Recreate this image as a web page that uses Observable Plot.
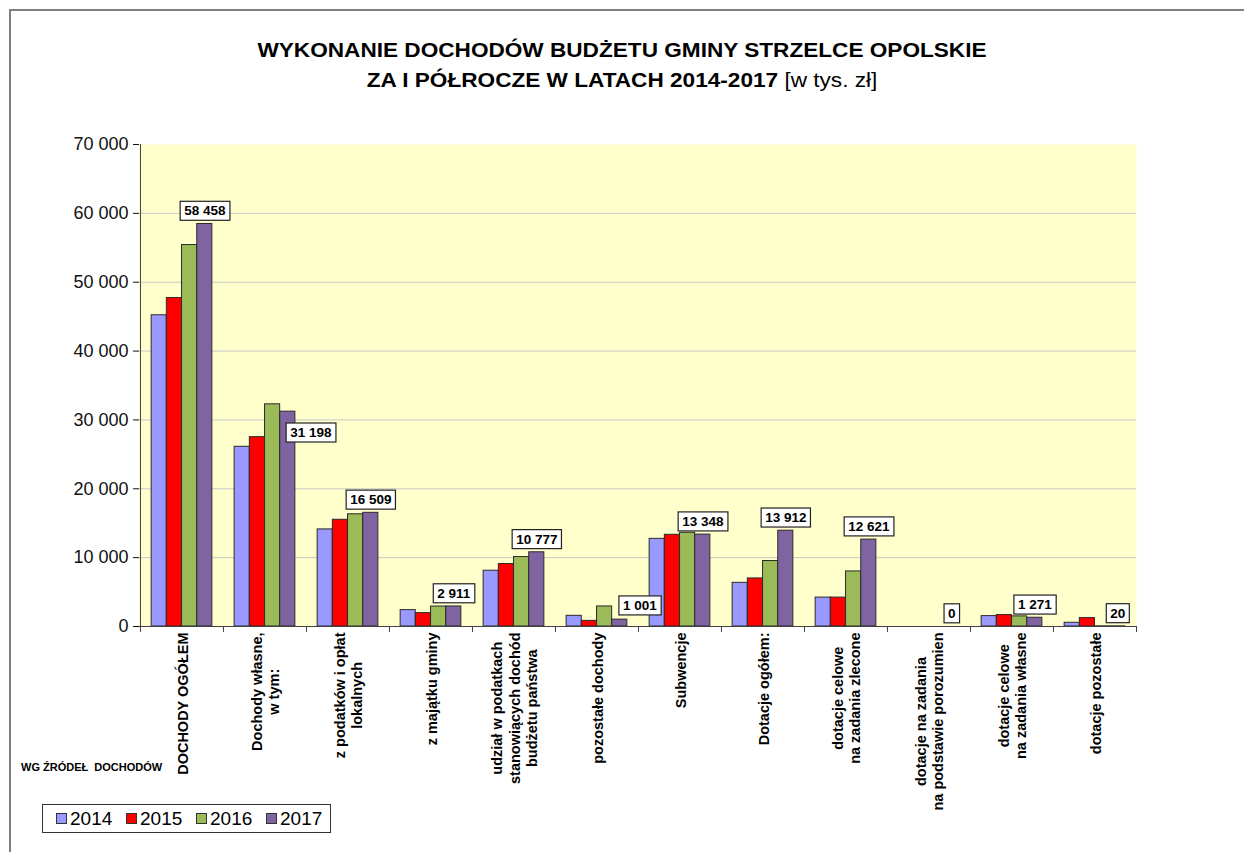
<!DOCTYPE html>
<html>
<head>
<meta charset="utf-8">
<script src="https://cdn.jsdelivr.net/npm/d3@7"></script>
<script src="https://cdn.jsdelivr.net/npm/@observablehq/plot@0.6"></script>
<style>
  html, body { margin: 0; padding: 0; background: #fff; }
  #page { position: relative; width: 1244px; height: 852px; overflow: hidden; font-family: "Liberation Sans", Arial, sans-serif; color: #000; }
  #frame { position: absolute; left: 9px; top: 9px; width: 1400px; height: 1000px; border-top: 2px solid #7f7f7f; border-left: 2px solid #7f7f7f; }
  #title { position: absolute; left: 0; top: 35px; width: 1244px; text-align: center; font-size: 20px; line-height: 30px; font-weight: bold; transform: scaleX(1.13); transform-origin: 622px 0; }
  #title .n { font-weight: normal; }
  #chart { position: absolute; left: 0; top: 120px; }
  #source { position: absolute; left: 21px; top: 761px; font-size: 11px; font-weight: bold; white-space: pre; }
  #legend { position: absolute; left: 42px; top: 804px; width: 287px; height: 27px; border: 1px solid #333; }
  .li { position: absolute; top: 0; height: 27px; font-size: 19px; line-height: 27px; }
  .sw { position: absolute; left: 0; top: 8px; width: 9px; height: 9px; border: 1px solid #333; }
  .lt { position: absolute; left: 14px; top: 0; }
</style>
</head>
<body>
<div id="page">
  <div id="frame"></div>
  <div id="title">WYKONANIE DOCHODÓW BUDŻETU GMINY STRZELCE OPOLSKIE<br>ZA I PÓŁROCZE W LATACH 2014-2017 <span class="n">[w tys. zł]</span></div>
  <div id="chart"></div>
  <div id="source">WG ŹRÓDEŁ  DOCHODÓW</div>
  <div id="legend"></div>
</div>
<script>
const categories = [
  "DOCHODY OGÓŁEM",
  "Dochody własne,\nw tym:",
  "z podatków i opłat\nlokalnych",
  "z majątku gminy",
  "udział w podatkach\nstanowiących dochód\nbudżetu państwa",
  "pozostałe dochody",
  "Subwencje",
  "Dotacje ogółem:",
  "dotacje celowe\nna zadania zlecone",
  "dotacje na zadania\nna podstawie porozumien",
  "dotacje celowe\nna zadania własne",
  "dotacje pozostałe"
];
const years = ["2014", "2015", "2016", "2017"];
const values2014 = [45200, 26100, 14100, 2380, 8100, 1550, 12730, 6340, 4200, 0, 1510, 540];
const values2015 = [47700, 27500, 15500, 1940, 9070, 820, 13320, 6980, 4200, 0, 1660, 1220];
const values2016 = [55400, 32270, 16300, 2900, 10090, 2910, 13610, 9510, 8000, 0, 1470, 25];
const values2017 = [58458, 31198, 16509, 2911, 10777, 1001, 13348, 13912, 12621, 0, 1271, 20];
const yearColors = ["#9999FF", "#FF0000", "#9BBB59", "#8064A2"];
const yTicks = [0, 10000, 20000, 30000, 40000, 50000, 60000, 70000];

const series = [values2014, values2015, values2016, values2017];
const rows = years.flatMap((yr, i) => categories.map((c, j) => ({cat: c, year: yr, value: series[i][j]})));

const W = 1244, H = 700, ML = 139, MR = 108, MT = 24, MB = 194;
const STEP = (W - ML - MR) / categories.length;
const BAR = 15.2;
const OUT = (STEP - BAR * years.length) / 2;
const fmt = v => d3.format(",")(v).replace(/,/g, " ");
const lastYear = years[years.length - 1];
const labelRows = rows.filter(d => d.year === lastYear);
const movedA = categories[1];   // label moved right & down
const movedB = categories[5];   // label moved right
const dxLast = OUT + BAR * (years.length - 0.5) - STEP / 2;
const axisColor = "#404040";
const labelFont = {fontSize: 13.5, fontWeight: "bold", fill: "#000"};

const chart = Plot.plot({
  width: W, height: H,
  marginLeft: ML, marginRight: MR, marginTop: MT, marginBottom: MB,
  style: {fontFamily: '"Liberation Sans", Arial, sans-serif', background: "transparent", overflow: "visible"},
  x: {domain: categories, padding: 0, axis: null},
  y: {domain: [0, 70000], axis: null},
  color: {domain: years, range: yearColors},
  marks: [
    Plot.frame({fill: "#FFFFCC", stroke: null}),
    Plot.ruleY(yTicks.filter(t => t > 0 && t < 70000), {stroke: "#c8c8c8", strokeWidth: 1}),
    ...years.map((yr, i) => Plot.barY(rows.filter(d => d.year === yr), {
      x: "cat", y: "value", fill: "year", stroke: "#2a2a2a", strokeWidth: 1,
      insetLeft: OUT + BAR * i, insetRight: STEP - OUT - BAR * (i + 1)
    })),
    Plot.ruleY([0], {stroke: axisColor}),
    Plot.ruleX([categories[0]], {x: d => d, dx: -STEP / 2, stroke: axisColor}),
    Plot.ruleX(categories, {x: d => d, dx: -STEP / 2, y1: 0, y2: 0, insetBottom: -6, stroke: axisColor}),
    Plot.ruleX([categories[categories.length - 1]], {x: d => d, dx: STEP / 2, y1: 0, y2: 0, insetBottom: -6, stroke: axisColor}),
    Plot.axisY(yTicks, {tickFormat: fmt, fontSize: 18, tickSize: 6, tickPadding: 5, color: "#111", label: null}),
    Plot.axisX({tickRotate: -90, tickSize: 0, tickPadding: 6, fontSize: 14.5, fontWeight: "bold", lineHeight: 1.2, label: null, color: "#000"}),
    Plot.text(labelRows.filter(d => d.cat !== movedA && d.cat !== movedB), {
      x: "cat", y: "value", text: d => fmt(d.value), dx: dxLast, dy: -13, ...labelFont
    }),
    Plot.text(labelRows.filter(d => d.cat === movedA), {
      x: "cat", y: "value", text: d => fmt(d.value), dx: dxLast + 23, dy: 21, ...labelFont
    }),
    Plot.text(labelRows.filter(d => d.cat === movedB), {
      x: "cat", y: "value", text: d => fmt(d.value), dx: dxLast + 20, dy: -14, ...labelFont
    })
  ]
});
document.getElementById("chart").appendChild(chart);

// Center multi-line category labels relative to their longest line (top-aligned block)
chart.querySelectorAll('g[aria-label="x-axis tick label"] text').forEach(t => {
  const spans = t.querySelectorAll("tspan");
  if (spans.length < 2) return;
  const L = Math.max(...Array.from(spans, s => s.getComputedTextLength()));
  t.setAttribute("text-anchor", "middle");
  spans.forEach(s => s.setAttribute("x", -L / 2));
});

// White boxed data labels
chart.querySelectorAll('g[aria-label="text"] text').forEach(t => {
  const b = t.getBBox();
  const r = document.createElementNS("http://www.w3.org/2000/svg", "rect");
  r.setAttribute("x", b.x - 4);
  r.setAttribute("y", b.y + b.height / 2 - 9.5);
  r.setAttribute("width", b.width + 8);
  r.setAttribute("height", 19);
  r.setAttribute("fill", "#fff");
  r.setAttribute("stroke", "#222");
  r.setAttribute("stroke-width", 1.2);
  if (t.getAttribute("transform")) r.setAttribute("transform", t.getAttribute("transform"));
  t.parentNode.insertBefore(r, t);
});

// Legend
const legend = document.getElementById("legend");
years.forEach((yr, i) => {
  const item = document.createElement("div");
  item.className = "li";
  item.style.left = (13 + 70 * i) + "px";
  const sw = document.createElement("div");
  sw.className = "sw";
  sw.style.background = yearColors[i];
  const lt = document.createElement("div");
  lt.className = "lt";
  lt.textContent = yr;
  item.appendChild(sw); item.appendChild(lt);
  legend.appendChild(item);
});
</script>
</body>
</html>
